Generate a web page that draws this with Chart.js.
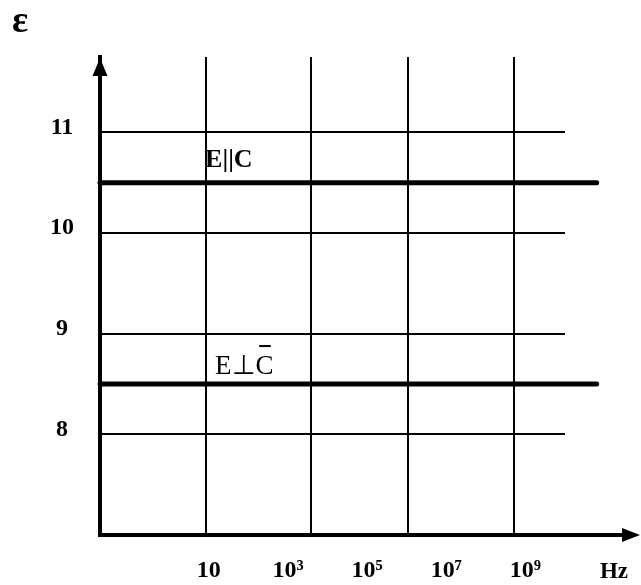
<!DOCTYPE html>
<html><head><meta charset="utf-8">
<script src="https://cdn.jsdelivr.net/npm/chart.js@4/dist/chart.umd.min.js"></script>
<style>html,body{margin:0;padding:0;background:#fff}canvas{display:block}</style>
</head><body>
<canvas id="c" width="641" height="585"></canvas>
<script>
// Frequency axis expressed in log10(Hz) units
const freqTickValues = [1, 3, 5, 7, 9];
const freqTickLabels = ['10', '10³', '10⁵', '10⁷', '10⁹'];
const freqGridValues = [0.93, 3.58, 6.03, 8.71];
const epsTickValues = [8, 9, 10, 11];
const lineFreqs = [-1.75, 10.8];
const epsParallel = [10.5, 10.5];   // E||C
const epsPerp = [8.5, 8.5];         // E⊥C
const seriesLabels = ['E||C', 'E⊥C'];
const xRange = [-1.75, 10];
const yRange = [7, 11.75];

const SERIF = '"Liberation Serif", "Times New Roman", serif';

const deco = {
  id: 'deco',
  beforeDraw(chart) {
    const ctx = chart.ctx;
    ctx.save(); ctx.fillStyle = '#fff'; ctx.fillRect(0, 0, chart.width, chart.height); ctx.restore();
  },
  afterDraw(chart) {
    const { ctx, chartArea: a, scales } = chart;
    const x = scales.x, y = scales.y;
    ctx.save();
    ctx.fillStyle = '#000'; ctx.strokeStyle = '#000';
    // x axis extension + arrow
    ctx.lineWidth = 4;
    ctx.beginPath(); ctx.moveTo(a.right - 2, a.bottom); ctx.lineTo(chart.width - 14, a.bottom); ctx.stroke();
    ctx.beginPath();
    ctx.moveTo(chart.width - 1, a.bottom);
    ctx.lineTo(chart.width - 19, a.bottom - 7);
    ctx.lineTo(chart.width - 19, a.bottom + 7);
    ctx.closePath(); ctx.fill();
    // y axis arrow
    ctx.beginPath();
    ctx.moveTo(a.left, a.top + 1);
    ctx.lineTo(a.left - 7.5, a.top + 19);
    ctx.lineTo(a.left + 7.5, a.top + 19);
    ctx.closePath(); ctx.fill();

    // axis titles
    ctx.textBaseline = 'alphabetic';
    ctx.textAlign = 'center';
    ctx.font = 'bold 38px ' + SERIF;
    ctx.fillText('ε', 20, 32);
    ctx.font = 'bold 23px ' + SERIF;
    ctx.fillText('Hz', 614, 578);

    // series annotations
    const gx = x.getPixelForValue(freqGridValues[0]);
    ctx.textAlign = 'left';
    ctx.font = 'bold 26px ' + SERIF;
    ctx.fillText(seriesLabels[0], gx - 1, y.getPixelForValue(epsParallel[0]) - 16);

    ctx.font = '27px ' + SERIF;
    const tx = gx + 9, ty = y.getPixelForValue(epsPerp[0]) - 10;
    ctx.fillText(seriesLabels[1], tx, ty);
    // overline over C
    const pre = ctx.measureText(seriesLabels[1].slice(0, 2)).width;
    const cw = ctx.measureText('C').width;
    ctx.lineWidth = 2;
    ctx.beginPath();
    ctx.moveTo(tx + pre + cw * 0.2, ty - 28);
    ctx.lineTo(tx + pre + cw * 0.85, ty - 28);
    ctx.stroke();
    ctx.restore();
  }
};

const mk = (ys) => lineFreqs.map((f, i) => ({ x: f, y: ys[i] }));

new Chart(document.getElementById('c'), {
  type: 'line',
  data: {
    datasets: [
      { label: seriesLabels[0], data: mk(epsParallel), borderColor: '#000', borderWidth: 5, pointRadius: 0, clip: false, borderCapStyle: 'round' },
      { label: seriesLabels[1], data: mk(epsPerp), borderColor: '#000', borderWidth: 5, pointRadius: 0, clip: false, borderCapStyle: 'round' }
    ]
  },
  options: {
    responsive: false,
    animation: false,
    devicePixelRatio: 1,
    layout: { padding: { top: 57, right: 76, left: 0, bottom: 0 } },
    plugins: { legend: { display: false }, tooltip: { enabled: false } },
    scales: {
      xg: {
        type: 'linear', position: 'bottom', min: xRange[0], max: xRange[1],
        afterBuildTicks: s => { s.ticks = freqGridValues.map(v => ({ value: v })); },
        afterFit: s => { s.height = 0; },
        ticks: { display: false },
        grid: { color: '#000', lineWidth: 2, drawTicks: false },
        border: { display: false }
      },
      x: {
        type: 'linear', position: 'bottom', min: xRange[0], max: xRange[1],
        afterBuildTicks: s => { s.ticks = freqTickValues.map(v => ({ value: v })); },
        afterFit: s => { s.height = 50; },
        ticks: {
          color: '#000', padding: 21, maxRotation: 0, autoSkip: false,
          font: { family: SERIF, size: 24, weight: 'bold' },
          callback: (v, i) => freqTickLabels[i]
        },
        grid: { display: false, drawTicks: false },
        border: { display: true, color: '#000', width: 4 }
      },
      y: {
        type: 'linear', position: 'left', min: yRange[0], max: yRange[1],
        afterBuildTicks: s => { s.ticks = epsTickValues.map(v => ({ value: v })); },
        afterFit: s => { s.width = 100; },
        ticks: {
          color: '#000', padding: 26, crossAlign: 'center', labelOffset: -5,
          font: { family: SERIF, size: 24, weight: 'bold' },
          callback: v => String(v)
        },
        grid: { color: '#000', lineWidth: 2, drawTicks: false },
        border: { display: true, color: '#000', width: 4 }
      }
    }
  },
  plugins: [deco]
});
</script>
</body></html>
